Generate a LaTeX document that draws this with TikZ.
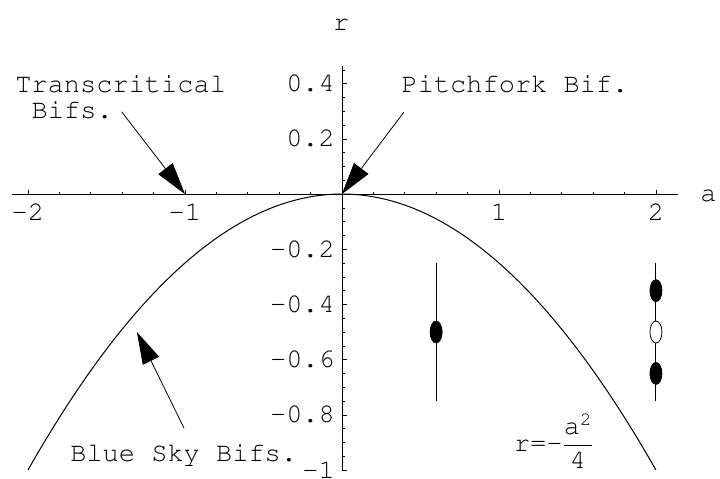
\documentclass[tikz,border=0pt]{standalone}
\usepackage[T1,TU]{fontenc}
\usepackage{amsmath}
\usetikzlibrary{arrows.meta, positioning, shapes.geometric}
\newcommand{\plotfont}{\fontencoding{T1}\fontfamily{pcr}\fontsize{27}{28}\selectfont}
\tikzset{
  axisLine/.style={line width=0.8pt},
  tickLine/.style={line width=0.6pt},
  curveLine/.style={line width=1.0pt},
  phaseLine/.style={line width=0.9pt},
  lbl/.style={font=\plotfont, inner sep=0pt, outer sep=0pt},
  tlbl/.style={lbl, anchor=base},
  ylbl/.style={lbl, anchor=base east, yshift=-8pt},
  callout/.style={-{Triangle[length=32pt,width=18pt]}, line width=0.8pt},
  stablePt/.style={ellipse, draw=black, fill=black, line width=0.8pt,
    minimum width=12pt, minimum height=22pt, inner sep=0pt},
  unstablePt/.style={stablePt, fill=white},
}

\begin{document}
\begin{tikzpicture}[x=157pt, y=276pt]
\useasboundingbox (-2.178,-1.029) rectangle (2.408,0.703);

%% ── AXES ─────────────────────────────────────────────
\draw[axisLine] (-2.104,0) -- (2.14,0);
\draw[axisLine] (0,-1.0) -- (0,0.464);
\node[tlbl] (aLab) at (2.335,-0.028) {a};
\node[tlbl] (rLab) at (-0.005,0.594) {r};

% a-axis ticks
\foreach \i in {-9,-8,-7,-6,-4,-3,-2,-1,1,2,3,4,6,7,8,9}
  \draw[tickLine] (\i/5,0) -- ++(0,2.5pt);
\foreach \v [count=\k] in {-2,-1,1,2} {
  \draw[tickLine] (\v,0) -- ++(0,4.5pt);
  \node[tlbl, yshift=-26pt] (xt\k) at (\v,0) {\v};
}

% r-axis ticks
\foreach \i in {-19,-18,-17,-15,-14,-13,-11,-10,-9,-7,-6,-5,-3,-2,-1,1,2,3,5,6,7,9}
  \draw[tickLine] (0,\i/20) -- ++(3pt,0);
\foreach \v/\t [count=\k] in {0.4/0.4, 0.2/0.2, -0.2/-0.2, -0.4/-0.4,
                              -0.6/-0.6, -0.8/-0.8, -1/-1} {
  \draw[tickLine] (0,\v) -- ++(5pt,0);
  \node[ylbl] (yt\k) at (-0.045,\v) {\t};
}

%% ── BIFURCATION CURVE ───────────────────────────────
\draw[curveLine] plot[domain=-2:2, samples=101, smooth] (\x,{-0.25*(\x)*(\x)});
\node[lbl, anchor=base west] (formula) at (1.096,-0.934)
  {r=-$\displaystyle\frac{\text{a}^{\text{2}}}{\text{4}}$};

%% ── PHASE LINES ─────────────────────────────────────
\coordinate (oneTop) at (0.6,-0.25);
\coordinate (oneBot) at (0.6,-0.75);
\draw[phaseLine] (oneTop) -- (oneBot);
\node[stablePt] (oneMid) at (0.6,-0.5) {};

\coordinate (threeTop) at (2,-0.25);
\coordinate (threeBot) at (2,-0.75);
\draw[phaseLine] (threeTop) -- (threeBot);
\node[stablePt] (upper) at (2,-0.35) {};
\node[unstablePt] (middle) at (2,-0.5) {};
\node[stablePt] (lower) at (2,-0.65) {};

%% ── CALLOUTS ────────────────────────────────────────
\node[lbl, anchor=base west] (trans) at (-2.08,0.368) {Transcritical};
\node[lbl, anchor=base west] (transB) at (-1.976,0.272) {Bifs.};
\node[lbl, anchor=base west] (pitch) at (0.38,0.368) {Pitchfork Bif.};
\node[lbl, anchor=base west] (blue) at (-1.73,-0.970) {Blue Sky Bifs.};

\coordinate (tcTail) at (-1.403,0.298);
\coordinate (tcTip) at (-1,0);
\coordinate (pfTail) at (0.395,0.297);
\coordinate (pfTip) at (0,0);
\coordinate (bsTail) at (-1.006,-0.848);
\coordinate (bsTip) at (-1.306,-0.5);
\draw[callout] (tcTail) -- (tcTip);
\draw[callout] (pfTail) -- (pfTip);
\draw[callout] (bsTail) -- (bsTip);

\end{tikzpicture}
\end{document}
